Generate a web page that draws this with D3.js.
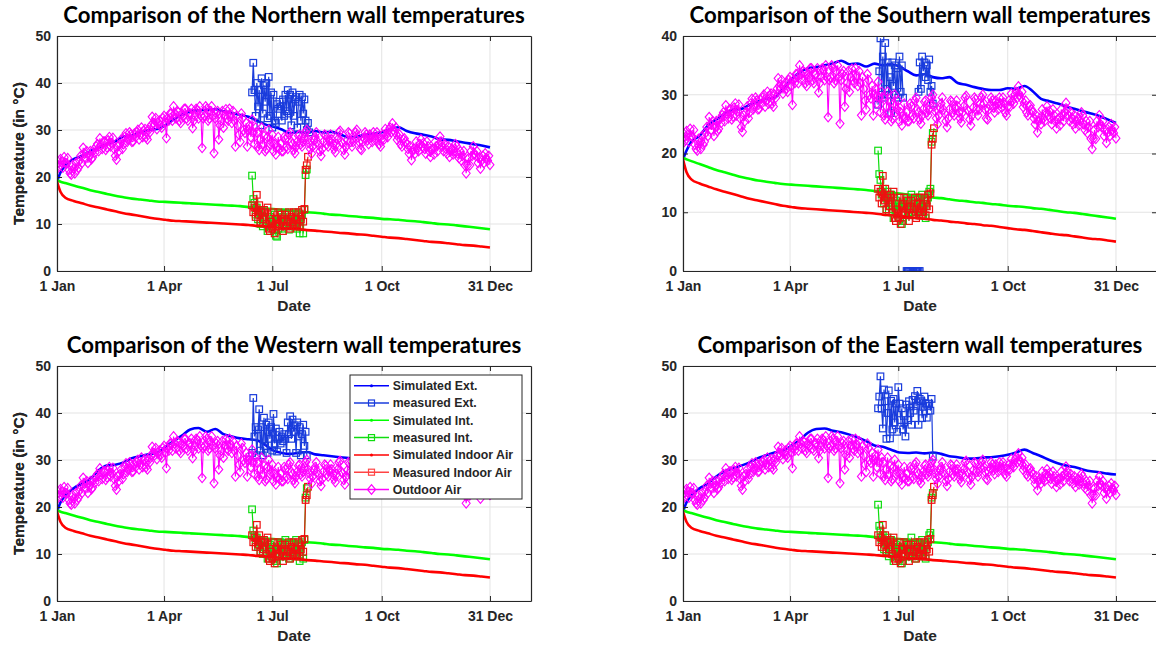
<!DOCTYPE html>
<html>
<head>
<meta charset="utf-8">
<script src="https://cdn.jsdelivr.net/npm/d3@7"></script>
<style>
body { margin: 0; background: #fff; }
svg text { font-family: "Liberation Sans", Arial, sans-serif; fill: #262626; }
</style>
</head>
<body>
<svg id="chart" width="1156" height="646"></svg>
<script>
// x ticks (day of year)
var tickDays = [0, 90, 181, 273, 364];
var tickLabels = ["1 Jan", "1 Apr", "1 Jul", "1 Oct", "31 Dec"];
var yTicks50 = [0, 10, 20, 30, 40, 50];
var yTicks40 = [0, 10, 20, 30, 40];

// simulated series, one value per listed day
var simDays = [0, 3, 7, 14, 21, 28, 35, 42, 49, 56, 63, 70, 77, 84, 91, 98, 105, 112, 119, 126, 133, 140, 147, 154, 161, 168, 175,
	182, 189, 196, 203, 210, 217, 224, 231, 238, 245, 252, 259, 266, 273, 280, 287, 294, 301, 308, 315, 322, 329, 336, 343, 350, 357, 364];
var simExtN = [19.0, 21.0, 22.5, 23.8, 24.5, 25.5, 26.3, 27.0, 27.6, 28.6, 28.8, 29.5, 30.0, 30.2, 31.0, 32.2, 33.2, 34.0, 34.2, 34.3, 34.4,
	34.0, 33.6, 33.2, 32.8, 32.0, 31.2, 30.7, 30.1, 29.3, 29.6, 29.4, 29.8, 29.5, 29.6, 29.1, 28.4, 28.6, 29.0, 29.2, 29.5, 30.2, 30.6,
	29.8, 29.3, 29.0, 28.6, 28.0, 27.9, 27.6, 27.3, 27.0, 26.7, 26.3];
var simExtS = [19.0, 20.5, 22.0, 23.0, 24.8, 25.8, 26.8, 27.5, 27.6, 28.3, 28.8, 29.3, 29.5, 31.0, 32.6, 33.8, 34.5, 34.7, 35.0, 35.3, 35.8,
	35.2, 35.3, 34.8, 35.3, 35.0, 35.2, 34.8, 34.0, 33.3, 33.5, 33.0, 32.8, 33.0, 32.0, 31.7, 31.3, 31.0, 30.8, 30.8, 31.1, 31.0, 31.5,
	30.6, 29.3, 28.9, 28.5, 28.0, 27.6, 27.2, 26.8, 26.4, 25.8, 25.2];
var simExtW = [19.0, 21.0, 22.5, 24.0, 25.0, 26.0, 27.8, 28.8, 29.0, 29.5, 30.4, 30.8, 31.2, 31.5, 32.8, 34.0, 35.2, 36.5, 36.8, 36.0, 36.6,
	35.5, 35.0, 34.6, 34.4, 34.2, 33.2, 32.0, 31.5, 31.3, 31.5, 31.7, 31.2, 31.0, 30.8, 30.6, 30.4, 30.0, 29.8, 29.8, 30.0, 30.5, 30.8,
	30.0, 29.5, 29.0, 28.6, 28.2, 27.8, 27.5, 27.2, 26.9, 26.6, 26.3];
var simExtE = [19.0, 21.0, 22.5, 24.0, 25.0, 26.5, 27.6, 28.2, 28.8, 29.5, 30.4, 31.0, 31.6, 32.0, 33.0, 34.2, 35.8, 36.6, 36.7, 36.2, 35.9,
	35.4, 34.8, 34.0, 33.1, 32.8, 32.2, 31.6, 31.5, 31.6, 31.4, 31.6, 31.3, 30.8, 30.6, 30.3, 30.3, 30.5, 30.6, 30.8, 31.1, 31.6, 32.2,
	31.5, 30.8, 30.0, 29.3, 28.8, 28.5, 28.0, 27.6, 27.4, 27.1, 26.9];
var simInt = [19.3, 19.0, 18.7, 18.2, 17.7, 17.2, 16.8, 16.4, 16.0, 15.7, 15.4, 15.2, 15.0, 14.8, 14.7, 14.6, 14.5, 14.4, 14.3, 14.2, 14.1,
	14.0, 13.9, 13.8, 13.6, 13.5, 13.3, 13.2, 13.0, 12.8, 12.7, 12.5, 12.4, 12.2, 12.0, 11.9, 11.7, 11.6, 11.4, 11.3, 11.1, 11.0, 10.9,
	10.7, 10.6, 10.4, 10.2, 10.0, 9.9, 9.7, 9.5, 9.3, 9.1, 8.9];
var simIndoor = [19.0, 16.8, 15.6, 14.9, 14.4, 13.9, 13.5, 13.1, 12.7, 12.3, 12.0, 11.7, 11.4, 11.1, 10.9, 10.7, 10.6, 10.5, 10.4, 10.3, 10.2,
	10.1, 10.0, 9.9, 9.8, 9.6, 9.5, 9.3, 9.2, 9.0, 8.9, 8.7, 8.6, 8.4, 8.3, 8.1, 8.0, 7.8, 7.7, 7.5, 7.3, 7.1, 7.0,
	6.8, 6.6, 6.4, 6.2, 6.1, 5.9, 5.7, 5.5, 5.4, 5.2, 5.0];

// measured series (summer campaign)
var measDays = [164, 165, 166, 167, 168, 169, 170, 171, 172, 173, 174, 175, 176, 177, 178, 179, 180, 181, 182, 183, 184, 185, 186, 187, 188,
	189, 190, 191, 192, 193, 194, 195, 196, 197, 198, 199, 200, 201, 202, 203, 204, 205, 206, 207, 208, 209, 210, 211, 212];
var measExtN = [38.0, 44.3, 38.5, 33.0, 40.0, 35.0, 38.5, 31.0, 41.0, 33.5,
	39.5, 36.0, 40.0, 32.5, 41.3, 33.0, 38.0, 30.5, 37.5, 32.0,
	31.5, 35.5, 34.5, 36.0, 35.0, 32.0, 36.5, 33.0, 37.5, 34.0,
	38.5, 33.5, 37.5, 31.0, 38.0, 33.0, 36.5, 37.0, 30.5, 36.0,
	37.5, 32.0, 37.0, 33.5, 36.5, 32.0, 30.0, 31.5, 29.5];
var measExtS = [28.3, 34.0, 39.6, 30.0, 36.5, 29.5, 38.8, 31.0, 35.5, 30.0,
	33.0, 26.9, 35.5, 31.5, 35.0, 30.0, 34.5, 29.5, 36.5, 30.5,
	35.0, 29.5, null, null, null, null, null, null, null, null,
	null, null, null, null, 30.5, 35.5, 31.0, 36.5, 34.0, 35.5,
	33.0, 35.0, 32.5, 36.0, 30.5, 31.5, 28.5, null, null];
var measExtW = [31.5, 43.2, 35.0, 37.0, 31.0, 36.5, 40.8, 32.0, 37.0, 31.0,
	39.0, 33.0, 37.5, 31.5, 38.0, 34.5, 37.0, 32.0, 39.8, 33.5,
	36.7, 31.8, 34.5, 36.0, 33.5, 35.0, 34.0, 35.5, 34.5, 31.5,
	38.0, 35.5, 39.3, 34.5, 38.6, 36.0, 37.4, 31.5, 38.0, 35.0,
	37.0, 31.0, 35.5, 37.5, 33.0, 36.0, 31.0, null, null];
var measExtE = [41.0, 43.5, 47.8, 40.9, 36.7, 45.0, 42.5, 34.5, 40.0, 44.8,
	34.6, 42.6, 36.5, 43.0, 38.0, 42.0, 36.0, 45.5, 42.0, 38.5,
	41.0, 36.5, 38.0, 35.0, 41.8, 38.5, 42.5, 40.0, 37.5, 42.8,
	40.5, 43.6, 41.5, 44.7, 37.5, 43.0, 42.5, 38.9, 41.3, 43.5,
	42.0, 39.0, 41.5, 42.0, 40.5, 43.0, 30.7, null, null];
var measIntN = [20.3, 15.3, 14.5, 12.0, 13.5, 11.0, 12.5, 10.0, 13.0, 9.5,
	11.5, 12.5, 10.0, 8.5, 10.5, 11.5, 9.5, 11.0, 10.5, 12.0,
	7.5, 7.3, 9.0, 10.5, 12.0, 9.0, 11.5, 10.0, 12.5, 9.5,
	11.0, 8.8, 10.5, 12.0, 9.5, 11.0, 10.0, 12.5, 9.0, 10.5,
	8.0, 11.5, 12.0, 8.0, 13.0, 20.4, 21.6, null, null];
var measIntS = [20.5, 16.5, 15.5, 13.0, 14.0, 11.5, 12.5, 10.5, 13.5, 10.0,
	12.0, 13.0, 10.5, 9.0, 11.5, 12.0, 10.0, 11.5, 11.0, 12.5,
	8.0, 8.5, 9.5, 11.0, 12.5, 9.5, 12.0, 10.5, 13.0, 10.0,
	11.5, 9.5, 11.0, 12.5, 10.0, 11.5, 10.5, 13.0, 9.5, 11.0,
	9.0, 12.0, 12.5, 13.5, 14.0, 22.0, 23.5, null, null];
var measIntW = [19.5, 15.0, 14.0, 12.5, 13.5, 11.5, 12.0, 10.5, 13.0, 10.0,
	11.5, 12.5, 10.0, 9.0, 11.0, 12.0, 9.5, 11.5, 10.5, 12.5,
	8.5, 8.0, 9.5, 11.0, 12.5, 9.5, 12.0, 10.0, 13.0, 9.5,
	11.0, 9.0, 10.5, 12.5, 10.0, 11.5, 10.0, 13.0, 9.5, 11.0,
	8.5, 12.0, 12.5, 9.0, 13.0, 22.0, 24.0, null, null];
var measIntE = [20.5, 16.0, 15.0, 13.0, 14.0, 11.0, 12.5, 10.5, 13.5, 9.5,
	12.0, 13.0, 10.0, 8.5, 11.5, 12.0, 9.5, 11.5, 11.0, 12.5,
	8.0, 8.5, 9.5, 11.0, 12.5, 9.5, 12.0, 10.0, 13.5, 9.5,
	11.5, 9.0, 11.0, 12.5, 10.0, 11.5, 10.5, 13.0, 9.5, 11.0,
	9.0, 12.0, 12.5, 14.0, 14.5, 22.0, 23.0, null, null];
var measIndoor = [14.0, 12.5, 13.5, 11.5, 16.2, 12.0, 14.0, 10.5, 12.5, 11.0,
	13.0, 12.5, 10.0, 13.5, 9.0, 8.5, 10.5, 9.0, 12.5, 8.0,
	11.0, 10.0, 12.5, 9.5, 12.0, 10.5, 8.5, 11.0, 12.0, 9.5,
	10.5, 12.5, 9.0, 11.5, 10.0, 12.5, 9.5, 11.0, 10.0, 12.5,
	9.5, 11.0, 13.0, 10.5, 13.2, 21.5, 22.5, 24.3, null];
// zero readings of the southern exterior sensor
var southZeroDays = [188, 189, 190, 191, 192, 193, 194, 195, 196, 197, 198, 199];
var southZeroVals = [0, 0, 0, 0, 0, 0, 0, 0, 0, 0, 0, 0];

// outdoor air, even days
var outdoorDays = [0, 2, 4, 6, 8, 10, 12, 14, 16, 18, 20, 22, 24, 26, 28, 30, 32, 34, 36, 38, 40, 42, 44, 46, 48, 50, 52, 54, 56, 58,
	60, 62, 64, 66, 68, 70, 72, 74, 76, 78, 80, 82, 84, 86, 88, 90, 92, 94, 96, 98, 100, 102, 104, 106, 108, 110, 112, 114, 116, 118,
	120, 122, 124, 126, 128, 130, 132, 134, 136, 138, 140, 142, 144, 146, 148, 150, 152, 154, 156, 158, 160, 162, 164, 166, 168, 170,
	172, 174, 176, 178, 180, 182, 184, 186, 188, 190, 192, 194, 196, 198, 200, 202, 204, 206, 208, 210, 212, 214, 216, 218, 220, 222,
	224, 226, 228, 230, 232, 234, 236, 238, 240, 242, 244, 246, 248, 250, 252, 254, 256, 258, 260, 262, 264, 266, 268, 270, 272, 274,
	276, 278, 280, 282, 284, 286, 288, 290, 292, 294, 296, 298, 300, 302, 304, 306, 308, 310, 312, 314, 316, 318, 320, 322, 324, 326,
	328, 330, 332, 334, 336, 338, 340, 342, 344, 346, 348, 350, 352, 354, 356, 358, 360, 362, 364];
var outdoorAir = [23.5, 22.3, 23.2, 24.2, 22.8, 21.5, 20.5, 21.8, 23.0, 22.0,
	24.5, 26.2, 24.0, 23.0, 25.5, 24.2, 25.2, 27.0, 28.2, 26.0,
	27.5, 26.3, 28.5, 27.2, 26.0, 23.7, 25.5, 28.0, 27.0, 29.3,
	28.0, 29.0, 27.6, 28.5, 30.0, 29.0, 28.5, 30.2, 28.0, 29.5,
	32.8, 31.0, 30.2, 32.0, 30.5, 33.0, 28.3, 32.0, 33.5, 35.0,
	32.5, 33.8, 31.5, 33.0, 34.5, 32.0, 33.5, 30.4, 33.0, 34.2,
	35.0, 26.2, 33.0, 34.5, 32.5, 35.0, 25.1, 33.5, 28.0, 32.0,
	30.5, 34.4, 32.0, 33.2, 34.0, 26.5, 31.0, 27.5, 32.5, 29.4,
	26.5, 31.0, 32.2, 27.0, 29.5, 25.8, 30.5, 28.7, 26.0, 30.0,
	27.5, 25.5, 24.8, 28.5, 27.0, 25.5, 28.0, 26.0, 29.5, 27.0,
	25.1, 27.5, 29.0, 26.5, 28.5, 30.0, 27.2, 25.0, 27.8, 29.5,
	26.8, 24.5, 27.5, 28.8, 26.5, 29.0, 27.0, 25.3, 28.0, 29.8,
	27.2, 24.8, 27.8, 29.2, 26.5, 28.5, 30.0, 27.5, 25.8, 28.2,
	29.0, 27.0, 28.5, 29.5, 27.8, 28.6, 26.5, 29.0, 30.2, 28.5,
	30.5, 31.4, 29.5, 27.9, 29.0, 26.5, 28.2, 27.0, 25.0, 23.6,
	26.0, 27.5, 25.5, 28.0, 27.2, 25.0, 26.5, 24.3, 26.0, 27.5,
	25.5, 28.6, 26.5, 27.0, 25.0, 24.3, 26.0, 25.5, 26.5, 24.0,
	23.5, 25.5, 20.8, 24.0, 25.5, 26.5, 24.5, 23.0, 21.8, 24.5,
	25.0, 23.5, 22.6];
// outdoor air, odd days
var outdoorOddDays = [1, 3, 5, 7, 9, 11, 13, 15, 17, 19, 21, 23, 25, 27, 29, 31, 33, 35, 37, 39, 41, 43, 45, 47, 49, 51, 53, 55, 57, 59,
	61, 63, 65, 67, 69, 71, 73, 75, 77, 79, 81, 83, 85, 87, 89, 91, 93, 95, 97, 99, 101, 103, 105, 107, 109, 111, 113, 115, 117, 119,
	121, 123, 125, 127, 129, 131, 133, 135, 137, 139, 141, 143, 145, 147, 149, 151, 153, 155, 157, 159, 161, 163, 165, 167, 169, 171,
	173, 175, 177, 179, 181, 183, 185, 187, 189, 191, 193, 195, 197, 199, 201, 203, 205, 207, 209, 211, 213, 215, 217, 219, 221, 223,
	225, 227, 229, 231, 233, 235, 237, 239, 241, 243, 245, 247, 249, 251, 253, 255, 257, 259, 261, 263, 265, 267, 269, 271, 273, 275,
	277, 279, 281, 283, 285, 287, 289, 291, 293, 295, 297, 299, 301, 303, 305, 307, 309, 311, 313, 315, 317, 319, 321, 323, 325, 327,
	329, 331, 333, 335, 337, 339, 341, 343, 345, 347, 349, 351, 353, 355, 357, 359, 361, 363];
var outdoorAirOdd = [22.0, 23.8, 22.0, 23.0, 24.0, 20.8, 22.5, 20.8, 21.5, 23.5,
	23.0, 25.0, 25.5, 24.5, 23.8, 25.8, 26.5, 25.5, 26.8, 27.5,
	25.8, 27.8, 26.5, 28.3, 24.5, 26.5, 27.0, 26.0, 28.5, 27.5,
	29.5, 27.5, 29.2, 29.5, 28.0, 30.5, 29.8, 28.5, 30.0, 31.0,
	31.5, 32.5, 31.5, 31.0, 32.5, 31.5, 32.5, 33.5, 32.0, 33.5,
	34.0, 32.0, 33.5, 34.5, 32.5, 33.5, 34.5, 32.0, 34.5, 32.5,
	33.0, 32.5, 35.0, 32.0, 34.0, 33.0, 32.5, 34.0, 31.0, 34.0,
	33.0, 32.5, 34.5, 31.5, 32.0, 33.0, 29.0, 33.5, 30.0, 31.5,
	30.0, 28.5, 29.5, 30.5, 26.5, 28.0, 27.0, 25.5, 28.5, 27.0,
	29.0, 27.0, 26.5, 26.0, 25.5, 28.5, 26.5, 29.0, 27.5, 25.8,
	26.5, 28.8, 27.0, 27.5, 29.5, 28.0, 26.0, 26.5, 28.5, 27.5,
	25.5, 26.0, 29.0, 27.0, 27.8, 28.0, 26.0, 27.0, 29.5, 27.5,
	25.8, 26.5, 29.5, 27.5, 27.5, 29.5, 28.5, 26.0, 27.5, 29.5,
	27.8, 29.0, 27.5, 28.5, 29.5, 27.0, 28.0, 28.0, 29.0, 30.0,
	29.5, 30.0, 30.5, 28.5, 27.0, 28.0, 27.5, 26.0, 26.5, 25.5,
	25.0, 26.0, 27.0, 26.5, 26.0, 27.5, 25.5, 25.8, 24.8, 26.5,
	27.0, 27.5, 25.5, 26.0, 26.5, 25.5, 24.8, 27.0, 25.0, 25.5,
	24.5, 22.5, 22.5, 22.5, 24.5, 25.0, 25.5, 24.0, 23.5, 23.0,
	24.0, 24.5];

var colors = {
	simExt: "#0000ff", measExt: "#1a3cdc",
	simInt: "#00ff00", measInt: "#10dd10",
	simIndoor: "#ff0000", measIndoor: "#ee1111",
	outdoor: "#ff00ff"
};

var panels = [
	{title: "Comparison of the Northern wall temperatures", left: 57, top: 36, yTicks: yTicks50, ext: simExtN, mExt: measExtN, mInt: measIntN},
	{title: "Comparison of the Southern wall temperatures", left: 683, top: 36, yTicks: yTicks40, ext: simExtS, mExt: measExtS, mInt: measIntS, zeros: true},
	{title: "Comparison of the Western wall temperatures", left: 57, top: 366, yTicks: yTicks50, ext: simExtW, mExt: measExtW, mInt: measIntW, legend: true},
	{title: "Comparison of the Eastern wall temperatures", left: 683, top: 366, yTicks: yTicks50, ext: simExtE, mExt: measExtE, mInt: measIntE}
];

var legendItems = [
	{label: "Simulated Ext.", color: colors.simExt, marker: "dot"},
	{label: "measured Ext.", color: colors.measExt, marker: "square"},
	{label: "Simulated Int.", color: colors.simInt, marker: "dot"},
	{label: "measured Int.", color: colors.measInt, marker: "square"},
	{label: "Simulated Indoor Air", color: colors.simIndoor, marker: "dot"},
	{label: "Measured Indoor Air", color: "#ff4444", marker: "square"},
	{label: "Outdoor Air", color: colors.outdoor, marker: "diamond"}
];

var W = 474, H = 235;
var svg = d3.select("#chart");
var x = d3.scaleLinear().domain([0, 398.5]).range([0, W]);
var diamond = "M0,-4.8L4,0L0,4.8L-4,0Z";

function pairs(days, vals) {
	return days.map(function(d, i) { return {d: d, v: vals[i]}; });
}

// both halves of the outdoor record in day order
var outdoor = pairs(outdoorDays, outdoorAir).concat(pairs(outdoorOddDays, outdoorAirOdd))
	.sort(function(a, b) { return a.d - b.d; });

function drawPanel(p, idx) {
	var y = d3.scaleLinear().domain([0, p.yTicks[p.yTicks.length - 1]]).range([H, 0]);
	var g = svg.append("g").attr("transform", "translate(" + p.left + "," + p.top + ")");

	g.append("defs").append("clipPath").attr("id", "clip" + idx)
		.append("rect").attr("width", W).attr("height", H);

	// grid
	g.append("g").selectAll("line.vg").data(tickDays).enter().append("line")
		.attr("x1", function(d) { return x(d); }).attr("x2", function(d) { return x(d); })
		.attr("y1", 0).attr("y2", H).attr("stroke", "#e3e3e3").attr("stroke-width", 1);
	g.append("g").selectAll("line.hg").data(p.yTicks).enter().append("line")
		.attr("y1", function(d) { return y(d); }).attr("y2", function(d) { return y(d); })
		.attr("x1", 0).attr("x2", W).attr("stroke", "#e3e3e3").attr("stroke-width", 1);

	var line = d3.line().defined(function(d) { return d.v != null; })
		.x(function(d) { return x(d.d); }).y(function(d) { return y(d.v); });
	var smooth = d3.line().curve(d3.curveMonotoneX)
		.x(function(d) { return x(d.d); }).y(function(d) { return y(d.v); });

	var plot = g.append("g").attr("clip-path", "url(#clip" + idx + ")");

	var simLine = function(vals, col) {
		plot.append("path").datum(pairs(simDays, vals)).attr("d", smooth)
			.attr("fill", "none").attr("stroke", col).attr("stroke-width", 2.6);
	};
	var measLine = function(days, vals, col) {
		var data = pairs(days, vals);
		plot.append("path").datum(data).attr("d", line)
			.attr("fill", "none").attr("stroke", col).attr("stroke-width", 1.2);
		plot.append("g").selectAll("rect").data(data.filter(function(d) { return d.v != null; })).enter().append("rect")
			.attr("x", function(d) { return x(d.d) - 3.3; })
			.attr("y", function(d) { return y(d.v) - 3.3; })
			.attr("width", 6.6).attr("height", 6.6)
			.attr("fill", "none").attr("stroke", col).attr("stroke-width", 1.2);
	};

	simLine(p.ext, colors.simExt);
	measLine(measDays, p.mExt, colors.measExt);
	if (p.zeros) measLine(southZeroDays, southZeroVals, colors.measExt);
	simLine(simInt, colors.simInt);
	measLine(measDays, p.mInt, colors.measInt);
	simLine(simIndoor, colors.simIndoor);
	measLine(measDays, measIndoor, colors.measIndoor);

	plot.append("path").datum(outdoor).attr("d", line)
		.attr("fill", "none").attr("stroke", colors.outdoor).attr("stroke-width", 1.1);
	plot.append("g").selectAll("path").data(outdoor).enter().append("path")
		.attr("d", diamond)
		.attr("transform", function(d) { return "translate(" + x(d.d) + "," + y(d.v) + ")"; })
		.attr("fill", "none").attr("stroke", colors.outdoor).attr("stroke-width", 1.1);

	// axes with inward ticks on all four sides
	var xb = g.append("g").attr("transform", "translate(0," + H + ")")
		.call(d3.axisBottom(x).tickValues(tickDays).tickFormat(function(d, i) { return tickLabels[i]; })
			.tickSizeInner(-5).tickSizeOuter(0).tickPadding(10));
	var xt = g.append("g")
		.call(d3.axisTop(x).tickValues(tickDays).tickFormat("").tickSizeInner(-5).tickSizeOuter(0));
	var yl = g.append("g")
		.call(d3.axisLeft(y).tickValues(p.yTicks).tickSizeInner(-5).tickSizeOuter(0).tickPadding(6));
	var yr = g.append("g").attr("transform", "translate(" + W + ",0)")
		.call(d3.axisRight(y).tickValues(p.yTicks).tickFormat("").tickSizeInner(-5).tickSizeOuter(0));
	[xb, xt, yl, yr].forEach(function(a) {
		a.selectAll("path.domain").attr("stroke", "#262626").attr("stroke-width", 1.2);
		a.selectAll(".tick line").attr("stroke", "#262626").attr("stroke-width", 1);
		a.selectAll("text").attr("fill", "#262626").style("font-size", "14px").style("font-weight", "bold")
			.style("font-family", "'Liberation Sans', Arial, sans-serif");
	});

	g.append("text").attr("x", W / 2).attr("y", H + 40).attr("text-anchor", "middle")
		.style("font-size", "15.5px").style("font-weight", "bold").text("Date");
	g.append("text").attr("transform", "translate(" + (24 - p.left) + "," + (H / 2) + ") rotate(-90)")
		.attr("text-anchor", "middle")
		.style("font-size", "15.5px").style("font-weight", "bold").text("Temperature (in °C)");
	g.append("text").attr("x", W / 2).attr("y", -13).attr("text-anchor", "middle")
		.style("font-family", "Lato, 'Open Sans', sans-serif").style("font-size", "22.2px").style("font-weight", "bold")
		.style("fill", "#000").text(p.title);

	if (p.legend) drawLegend(g, 293, 9);
}

function drawLegend(g, lx, ly) {
	var lg = g.append("g").attr("transform", "translate(" + lx + "," + ly + ")");
	lg.append("rect").attr("width", 172).attr("height", 124)
		.attr("fill", "#fff").attr("stroke", "#262626").attr("stroke-width", 1);
	legendItems.forEach(function(it, i) {
		var cy = 10.7 + i * 17.3;
		var row = lg.append("g").attr("transform", "translate(0," + cy + ")");
		row.append("line").attr("x1", 4).attr("x2", 39).attr("y1", 0).attr("y2", 0)
			.attr("stroke", it.color).attr("stroke-width", 1.5);
		if (it.marker == "dot") {
			row.append("circle").attr("cx", 21.5).attr("cy", 0).attr("r", 1.5).attr("fill", it.color);
		} else if (it.marker == "square") {
			row.append("rect").attr("x", 18.5).attr("y", -3).attr("width", 6).attr("height", 6)
				.attr("fill", "none").attr("stroke", it.color).attr("stroke-width", 1.2);
		} else {
			row.append("path").attr("d", diamond).attr("transform", "translate(21.5,0)")
				.attr("fill", "none").attr("stroke", it.color).attr("stroke-width", 1.2);
		}
		row.append("text").attr("x", 42.7).attr("y", 4.4)
			.style("font-size", "12.3px").style("font-weight", "bold").text(it.label);
	});
}

panels.forEach(drawPanel);
</script>
</body>
</html>
